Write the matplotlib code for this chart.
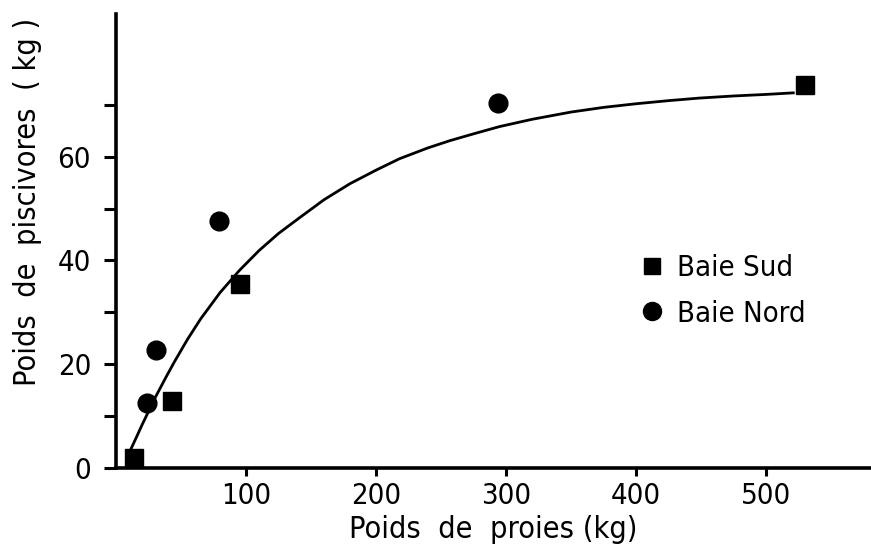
import matplotlib
matplotlib.use("Agg")
import matplotlib.pyplot as plt
from matplotlib.lines import Line2D

# ---- data ----
sud_x = [14, 43, 95, 530]
sud_y = [2.0, 12.9, 35.5, 73.8]
nord_x = [24, 31, 79, 294]
nord_y = [12.5, 22.7, 47.6, 70.3]

curve_x = [11, 16, 20, 25, 30, 38, 45, 55, 65, 80, 95, 110, 125, 141, 160, 180,
           200, 218, 240, 257, 275, 295, 320, 350, 375, 400, 425, 449, 475, 500, 521]
curve_y = [3.4, 6.1, 8.3, 10.9, 13.5, 17.3, 20.5, 24.8, 28.7, 33.8, 38.1, 41.9,
           45.2, 48.2, 51.7, 54.8, 57.4, 59.6, 61.7, 63.1, 64.4, 65.8, 67.2, 68.6,
           69.5, 70.2, 70.8, 71.3, 71.7, 72.0, 72.3]

x_ticks = [100, 200, 300, 400, 500]
y_ticks = [0, 10, 20, 30, 40, 50, 60, 70]
y_tick_labels = ["0", "", "20", "", "40", "", "60", ""]

series_labels = ["Baie Sud", "Baie Nord"]
x_label = "Poids  de  proies (kg)"
y_label = "Poids  de  piscivores  ( kg )"

FONT = dict(family="DejaVu Sans", stretch="condensed")
FS = 21

W, H = 871, 554
fig = plt.figure(figsize=(W / 100, H / 100), dpi=100)
ax = fig.add_axes([115.5 / W, 1 - 468 / H, 1 - 115.5 / W, (468 - 14) / H])

ax.plot(curve_x, curve_y, color="black", lw=2.0, zorder=2, clip_on=False)
ax.plot(sud_x, sud_y, ls="none", marker="s", ms=13, color="black", zorder=3, clip_on=False)
ax.plot(nord_x, nord_y, ls="none", marker="o", ms=13.5, color="black", zorder=3, clip_on=False)

ax.set_xlim(-0.4, 580.8)
ax.set_ylim(0, 87.5)

for s in ["top", "right"]:
    ax.spines[s].set_visible(False)
for s in ["left", "bottom"]:
    ax.spines[s].set_linewidth(2.6)
    ax.spines[s].set_capstyle("projecting")

ax.set_xticks(x_ticks)
ax.set_xticklabels([str(v) for v in x_ticks], fontsize=FS, **FONT)
ax.set_yticks(y_ticks)
ax.set_yticklabels(y_tick_labels, fontsize=FS, **FONT)
ax.tick_params(axis="x", direction="out", length=6, width=2.2, pad=4)
ax.tick_params(axis="y", direction="out", length=8.6, width=2.2, pad=9)

fig.text(493 / W, 1 - 529 / H, x_label, ha="center", va="center", fontsize=FS + 1, **FONT)
fig.text(28 / W, 1 - 202 / H, y_label, ha="center", va="center", rotation=90,
         fontsize=FS + 1, **FONT)

handles = [Line2D([], [], ls="none", marker="s", ms=12, color="black"),
           Line2D([], [], ls="none", marker="o", ms=13, color="black")]
ax.legend(handles, series_labels, loc="upper left",
          bbox_to_anchor=(637.4 / W, 1 - 254 / H), bbox_transform=fig.transFigure,
          frameon=False, handlelength=1.0, handletextpad=0.36, labelspacing=0.6,
          borderpad=0, borderaxespad=0, prop=dict(size=FS, **FONT))

fig.savefig("out.png", dpi=100)
